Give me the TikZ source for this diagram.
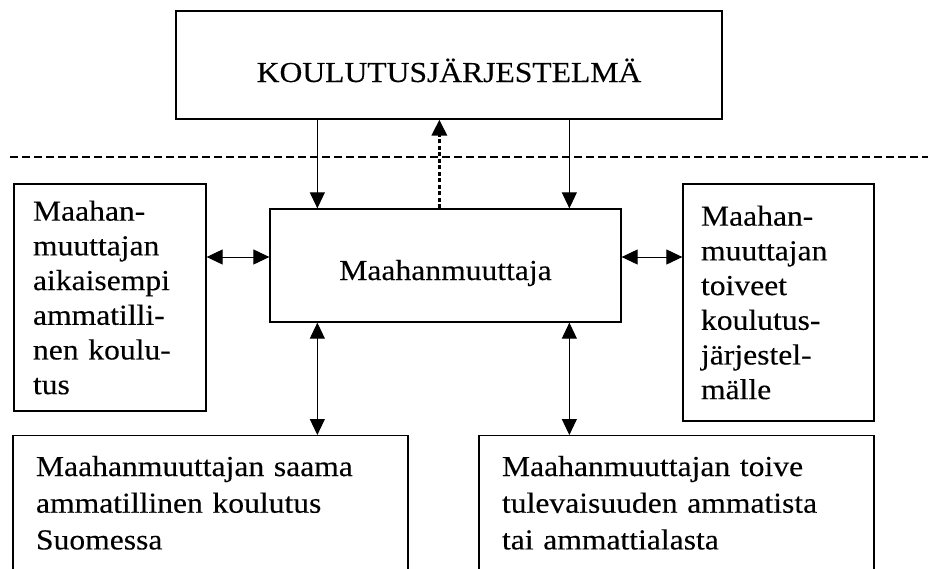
\documentclass[tikz,border=0pt]{standalone}
\usepackage{fontspec}
\setmainfont{Liberation Serif}[FakeStretch=1.09, FakeBold=0.2]
\usepackage{tikz}
\usetikzlibrary{positioning}
\usetikzlibrary{arrows.meta}

\begin{document}
\begin{tikzpicture}[
  x=1pt, y=-1pt,
  font=\fontsize{29}{34.7}\selectfont,
  box/.style={draw, line width=1.3pt, inner sep=0pt, align=center, text depth=0pt},
  sidebox/.style={draw, line width=1.3pt, inner ysep=0pt, align=left},
  widebox/.style={draw, line width=1.3pt, inner xsep=23pt, inner ysep=0pt, align=left, text width=349pt, minimum height=134.3pt, anchor=north, font=\fontsize{29}{36.7}\selectfont},
  arrow/.style={-{Triangle[width=15pt,length=16pt]}, line width=1pt},
  dblarrow/.style={{Triangle[width=15pt,length=16pt]}-{Triangle[width=15pt,length=16pt]}, line width=1pt},
  dotarrow/.style={-{Triangle[width=15pt,length=16pt]}, line width=3.5pt, dash pattern=on 4pt off 2.5pt},
  sepline/.style={line width=1.3pt, dash pattern=on 8pt off 4pt}
]
\useasboundingbox (0,0) rectangle (928,568);

% Nodes (system and immigrant)
\node[box, minimum width=546pt, minimum height=108pt, text height=34pt] (kj) at (449,65) {KOULUTUSJÄRJESTELMÄ};
\node[box, minimum width=351pt, minimum height=113pt, text height=29pt] (mm) at (445.5,265.5) {Maahanmuuttaja};

% Side boxes
\node[sidebox, inner xsep=19pt, text width=154pt, minimum height=227pt] (aik) at (110,297.5) {Maahan-\\muuttajan\\aikaisempi\\ammatilli-\\nen koulu-\\tus};
\node[sidebox, inner xsep=18pt, text width=155pt, minimum height=237pt] (toi) at (778.5,302.5) {Maahan-\\muuttajan\\toiveet\\koulutus-\\järjestel-\\mälle};

% Bottom boxes
\node[widebox] (saa) at (210.5,435) {Maahanmuuttajan saama\\ammatillinen koulutus\\Suomessa};
\node[widebox] (tul) at (676.5,435) {Maahanmuuttajan toive\\tulevaisuuden ammatista\\tai ammattialasta};

% Level border
\draw[sepline] (10,157) -- (928,157);

% System to immigrant
\draw[arrow] ([xshift=142pt]kj.south west) -- ([xshift=48pt]mm.north west);
\draw[arrow] ([xshift=394pt]kj.south west) -- ([xshift=300pt]mm.north west);
\draw[dotarrow] ([xshift=170pt]mm.north west) -- ([xshift=264pt]kj.south west);

% Immigrant to side and bottom boxes
\draw[dblarrow] ([yshift=8.5pt]mm.west) -- ([yshift=8.5pt]mm.west -| aik.east);
\draw[dblarrow] ([yshift=8.5pt]mm.east) -- ([yshift=8.5pt]mm.east -| toi.west);
\draw[dblarrow] ([xshift=48pt]mm.south west) -- ([xshift=305pt]saa.north west);
\draw[dblarrow] ([xshift=300pt]mm.south west) -- ([xshift=91pt]tul.north west);

\end{tikzpicture}
\end{document}
